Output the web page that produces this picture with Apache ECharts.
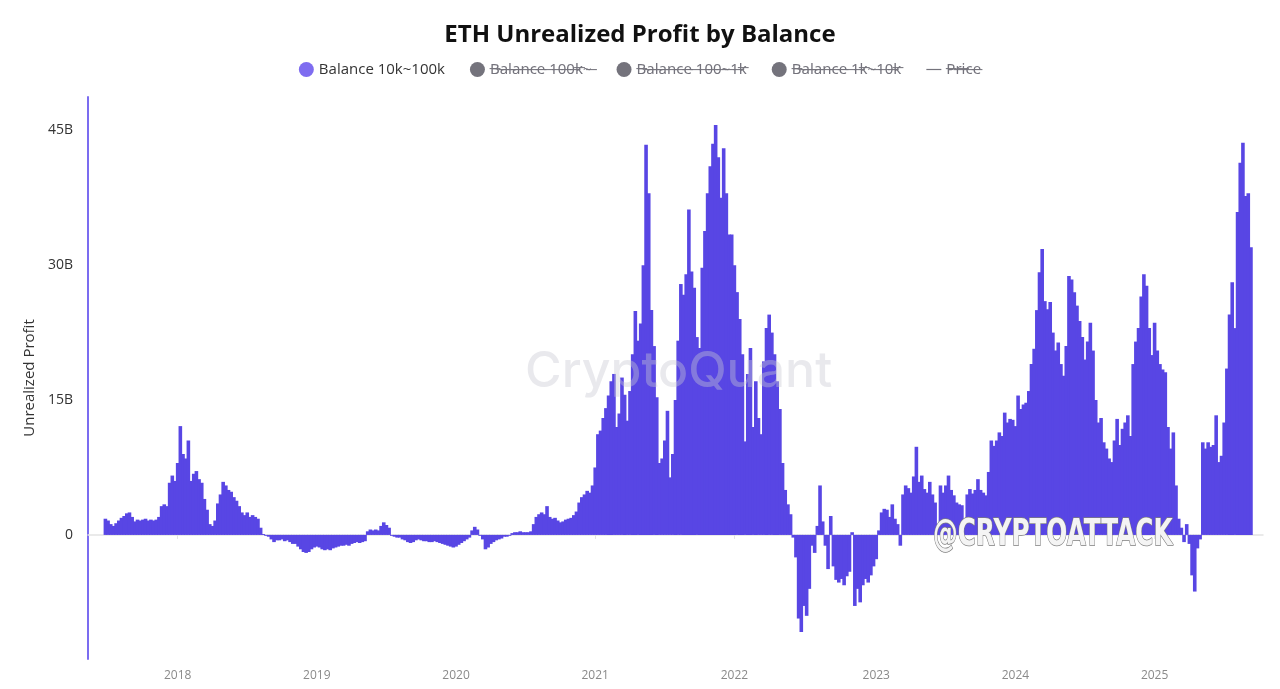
<!DOCTYPE html>
<html>
<head>
<meta charset="utf-8">
<script src="https://cdn.jsdelivr.net/npm/echarts@6/dist/echarts.min.js"></script>
<style>
html,body{margin:0;padding:0;background:#ffffff;}
#chart{width:1280px;height:689px;}
</style>
</head>
<body>
<div id="chart"></div>
<script>
// ---- data (weekly, values in billions USD) ----
const firstWeek = '2017-07-01';   // date of first weekly bar
const padWeeksBefore = 6;         // empty weeks before first bar (axis range)
const padWeeksAfter = 4;          // empty weeks after last bar
const yTickValues = [0, 15, 30, 45];
const seriesNames = ['Balance 10k~100k', 'Balance 100k~', 'Balance 100~1k', 'Balance 1k~10k', 'Price'];

const profit2017 = [1.8,1.6,1.2,1.0,1.3,1.6,1.9,2.1,2.4,2.5,2.0,1.5,1.7,1.6,1.7,1.8,1.6,1.7,1.6,1.7,2.0,3.2,3.4,3.2,5.8,6.6];
const profit2018 = [6.0,8.0,12.1,9.0,8.5,10.5,6.0,6.8,7.1,6.2,5.8,4.0,2.8,1.2,1.0,1.6,3.5,4.5,5.9,5.5,5.0,4.8,4.2,3.8,3.2,2.5,2.2,2.5,2.0,2.2,2.0,1.8,0.8,0.1,-0.1,-0.2,-0.5,-0.8,-0.6,-0.6,-0.5,-0.7,-0.6,-0.8,-1.0,-1.0,-1.3,-1.6,-1.9,-2.0,-1.9,-1.6];
const profit2019 = [-1.4,-1.3,-1.4,-1.6,-1.7,-1.6,-1.7,-1.5,-1.4,-1.3,-1.2,-1.2,-1.1,-1.2,-1.0,-0.9,-0.8,-0.9,-0.8,-0.7,0.4,0.6,0.5,0.6,0.5,1.0,1.4,1.1,0.8,-0.1,-0.2,-0.3,-0.3,-0.5,-0.6,-0.8,-0.9,-0.8,-0.6,-0.5,-0.6,-0.7,-0.7,-0.8,-0.8,-0.7,-0.8,-0.9,-1.0,-1.1,-1.2,-1.3];
const profit2020 = [-1.4,-1.3,-1.1,-0.9,-0.7,-0.5,-0.3,0.5,0.9,0.6,-0.1,-0.5,-1.6,-1.4,-1.0,-0.8,-0.6,-0.5,-0.4,-0.2,-0.2,-0.1,0.2,0.3,0.3,0.4,0.3,0.3,0.3,0.4,1.2,2.0,2.3,2.5,2.3,3.2,2.0,1.8,1.9,1.6,1.4,1.5,1.7,1.8,1.9,2.2,2.6,3.6,4.2,4.5,4.9,4.7];
const profit2021 = [5.5,7.5,11.2,11.6,13.0,14.1,15.5,17.1,17.9,12.0,13.5,17.5,15.6,12.7,16.0,20.1,24.9,21.6,23.5,30.0,43.4,38.0,25.0,21.0,15.3,8.0,8.5,10.5,13.8,6.4,9.0,15.0,21.6,27.9,26.7,29.0,36.2,29.3,27.5,22.0,20.8,29.7,33.8,38.0,41.0,43.5,45.6,42.0,37.5,43.0,38.0,33.4];
const profit2022 = [33.4,30.0,27.0,24.0,20.1,10.4,17.9,20.8,12.0,17.1,13.0,11.2,19.3,23.0,24.5,22.5,20.1,17.1,14.0,8.0,5.0,3.4,2.3,-0.3,-2.5,-9.3,-10.8,-7.9,-9.0,-6.0,-1.2,-2.0,1.0,5.5,1.5,-1.2,-3.8,2.1,-3.5,-5.0,-5.3,-4.9,-5.6,-4.6,-4.1,0.3,-7.9,-6.0,-7.5,-5.6,-4.9,-5.3];
const profit2023 = [-4.5,-3.5,-2.7,0.5,2.5,2.9,2.8,2.0,3.4,1.8,1.2,-1.2,4.5,5.5,5.2,4.7,6.5,9.8,5.9,6.6,5.1,4.7,5.9,4.5,3.6,1.2,5.5,4.7,5.5,6.6,5.0,4.4,3.6,3.4,3.3,1.2,4.5,5.1,4.6,5.0,6.2,5.0,4.7,4.4,7.0,10.5,9.9,10.5,11.4,11.0,13.6,12.5];
const profit2024 = [12.9,12.8,12.1,15.5,14.0,14.5,14.7,16.0,19.0,20.7,25.0,29.2,31.8,26.0,25.1,25.9,22.5,20.5,21.4,19.0,17.7,21.0,28.8,28.4,27.0,25.5,23.8,22.0,19.5,21.5,23.6,20.5,15.0,12.5,13.0,10.3,9.6,8.5,8.1,10.5,12.9,10.0,11.8,12.5,13.3,11.0,19.0,21.5,23.0,26.5,29.0,27.7];
const profit2025 = [23.0,20.0,23.6,20.5,19.0,18.4,18.1,12.0,9.6,11.4,5.5,1.8,0.8,-0.8,1.2,-1.0,-4.5,-6.3,-1.5,-0.5,10.3,9.6,10.3,9.8,10.0,13.3,8.1,8.8,12.5,18.5,24.5,28.1,23.0,35.9,41.4,43.6,37.7,38.0,32.0];

// ---- build axis categories and series data ----
const profit = [].concat(profit2017, profit2018, profit2019, profit2020, profit2021, profit2022, profit2023, profit2024, profit2025);
const DAY = 86400000;
function fmt(t){
  const d = new Date(t);
  const m = String(d.getUTCMonth()+1).padStart(2,'0');
  const dd = String(d.getUTCDate()).padStart(2,'0');
  return d.getUTCFullYear() + '-' + m + '-' + dd;
}
const t0 = Date.parse(firstWeek + 'T00:00:00Z') - padWeeksBefore * 7 * DAY;
const total = padWeeksBefore + profit.length + padWeeksAfter;
const categories = [];
const barData = [];
for (let i = 0; i < total; i++) {
  categories.push(fmt(t0 + i * 7 * DAY));
  const k = i - padWeeksBefore;
  barData.push(k >= 0 && k < profit.length ? profit[k] : null);
}
function isYearStart(index){
  return index > 0 && categories[index].slice(0,4) !== categories[index-1].slice(0,4);
}

const strike = s => Array.from(s).map(c => c + '\u0336').join('');

const chart = echarts.init(document.getElementById('chart'), null, {renderer: 'canvas'});
const FONT = '"Open Sans", "Noto Sans", sans-serif';
const BAR_COLOR = '#5846e4';
const option = {
  backgroundColor: '#ffffff',
  animation: false,
  textStyle: {fontFamily: FONT},
  title: {
    text: 'ETH Unrealized Profit by Balance',
    left: 'center',
    top: 18,
    textStyle: {fontSize: 24, fontWeight: 'bold', color: '#111111', fontFamily: FONT}
  },
  legend: {
    top: 57,
    left: 'center',
    itemGap: 25,
    itemWidth: 15,
    itemHeight: 15,
    textStyle: {fontSize: 15, color: '#333333', fontFamily: FONT},
    inactiveColor: '#74737c',
    data: [
      {name: seriesNames[0], icon: 'circle', itemStyle: {color: '#7e6cf0', borderWidth: 0}},
      {name: seriesNames[1], icon: 'circle'},
      {name: seriesNames[2], icon: 'circle'},
      {name: seriesNames[3], icon: 'circle'},
      {name: seriesNames[4], icon: 'path://M0,0H20V1.6H0Z'}
    ],
    selected: {
      [seriesNames[1]]: false,
      [seriesNames[2]]: false,
      [seriesNames[3]]: false,
      [seriesNames[4]]: false
    },
    formatter: function(name){
      return name === seriesNames[0] ? name : strike(name);
    }
  },
  grid: {left: 88, right: 17, top: 97, bottom: 30, containLabel: false},
  xAxis: {
    type: 'category',
    data: categories,
    boundaryGap: true,
    axisLine: {show: true, lineStyle: {color: '#e3e3e3', width: 1.5}},
    axisTick: {show: true, alignWithLabel: true, interval: isYearStart, length: 4, lineStyle: {color: '#e3e3e3'}},
    axisLabel: {
      interval: isYearStart,
      formatter: v => v.slice(0,4),
      color: '#8a8a8a',
      fontSize: 12,
      margin: 11
    },
    splitLine: {show: false}
  },
  yAxis: {
    type: 'value',
    min: -13.8,
    max: 48.7,
    name: 'Unrealized Profit',
    nameLocation: 'middle',
    nameGap: 48,
    nameTextStyle: {fontSize: 15, color: '#333333'},
    axisLine: {show: true, lineStyle: {color: '#7b6cf0', width: 2}},
    axisTick: {show: false},
    splitLine: {show: false},
    axisLabel: {
      customValues: yTickValues,
      formatter: v => v === 0 ? '0' : v + 'B',
      color: '#333333',
      fontSize: 14,
      margin: 15
    }
  },
  series: [
    {
      name: seriesNames[0],
      type: 'bar',
      data: barData,
      barWidth: 3.6,
      barGap: '-100%',
      itemStyle: {color: BAR_COLOR, borderWidth: 0},
      emphasis: {disabled: true}
    },
    {name: seriesNames[1], type: 'bar', data: [], barWidth: 3.6, barGap: '-100%', itemStyle: {color: '#2f8ee5'}},
    {name: seriesNames[2], type: 'bar', data: [], barWidth: 3.6, barGap: '-100%', itemStyle: {color: '#36c5a8'}},
    {name: seriesNames[3], type: 'bar', data: [], barWidth: 3.6, barGap: '-100%', itemStyle: {color: '#f5a623'}},
    {name: seriesNames[4], type: 'line', data: [], showSymbol: false, lineStyle: {color: '#888888'}, itemStyle: {color: '#888888'}}
  ],
  graphic: [
    {
      type: 'text',
      left: 525,
      top: 347,
      z: 100,
      silent: true,
      style: {
        text: 'CryptoQuant',
        font: '500 50px "Inter", "Open Sans", sans-serif',
        fill: 'rgba(200,200,210,0.4)'
      }
    },
    {
      type: 'text',
      x: 933,
      y: 516,
      scaleX: 0.65,
      z: 101,
      silent: true,
      style: {
        text: '@CRYPTOATTACK',
        font: 'bold 38px "DejaVu Sans", sans-serif',
        fill: '#f4f4f4',
        stroke: '#7d7d7d',
        lineWidth: 1.5,
        shadowColor: 'rgba(0,0,0,0.45)',
        shadowBlur: 2,
        shadowOffsetX: 2,
        shadowOffsetY: 3
      }
    }
  ]
};
chart.setOption(option);
</script>
</body>
</html>
